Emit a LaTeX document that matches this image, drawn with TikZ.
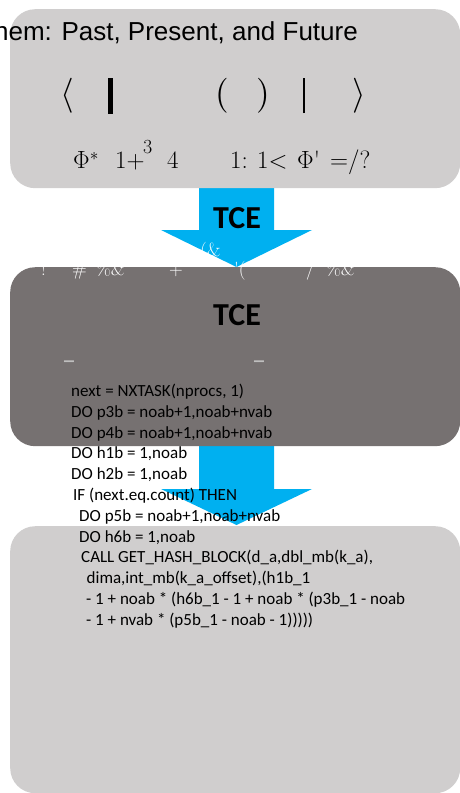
\documentclass[tikz,border=0pt]{standalone}
\usepackage{fontspec}
\newfontfamily\arialf{Liberation Sans}
\newfontfamily\calib{Carlito}
\usetikzlibrary{calc}
\definecolor{boxlight}{HTML}{D0CECE}
\definecolor{boxdark}{HTML}{767171}
\definecolor{arrowblue}{HTML}{00B0F0}
\definecolor{dashgray}{HTML}{BFBFBF}
\newcommand\blockarr[2]{%
  \fill[arrowblue] ($(#1)+(-37.5,0)$) -- ($(#1)+(37.5,0)$) -- ($(#1)+(37.5,43)$)
    -- ($(#1)+(75.5,43)$) -- (#2) -- ($(#1)+(-75.5,43)$) -- ($(#1)+(-37.5,43)$) -- cycle;}
\newcommand\tallglyph[1]{\resizebox*{!}{35pt}{$#1$}}
\begin{document}
\begin{tikzpicture}[x=1pt,y=-1pt,
  panel/.style={rounded corners=25pt, inner sep=0pt, minimum width=450pt, anchor=north west},
  tce/.style={font=\calib\bfseries\fontsize{32}{32}\selectfont, inner sep=0pt},
  code/.style={font=\calib\fontsize{17}{17}\selectfont, anchor=base west, inner sep=0pt},
  delim/.style={inner sep=0pt},
  eq/.style={font=\fontsize{25}{25}\selectfont, anchor=base west, inner sep=0pt},
  garble/.style={font=\fontsize{19}{19}\selectfont, text=white, anchor=base west, inner sep=0pt},
  dashmark/.style={font=\calib\fontsize{28}{28}\selectfont, text=dashgray, anchor=base, inner sep=0pt}]
\useasboundingbox (0,0) rectangle (460,793);
% arrows (behind the panels)
\coordinate (a1s) at (236.5,187);
\coordinate (a1t) at (236.5,267);
\coordinate (a2s) at (236.5,446);
\coordinate (a2t) at (236.5,525);
\blockarr{a1s}{a1t}
\blockarr{a2s}{a2t}
% panels
\node[panel, fill=boxlight, minimum height=179pt] (box1) at (10,9) {};
\node[panel, fill=boxdark, minimum height=179pt] (box2) at (10,267) {};
\node[panel, fill=boxlight, minimum height=267pt] (box3) at (10,526) {};
% title
\node[font=\arialf\fontsize{26}{26}\selectfont, anchor=base east, inner sep=0pt] (title) at (358,40) {hem: Past, Present, and Future};
% row 1 delimiters
\node[delim] (d1) at (67.5,95.5) {\tallglyph{\langle}};
\node[delim] (d2) at (110.5,95.5) {\rule{4.5pt}{36pt}};
\node[delim] (d3) at (222,95.5) {\tallglyph{(}};
\node[delim] (d4) at (263,95.5) {\tallglyph{)}};
\node[delim] (d5) at (303.5,95.5) {\rule{2pt}{35pt}};
\node[delim] (d6) at (359,95.5) {\tallglyph{\rangle}};
% row 2
\node[eq] (e1) at (73,168) {$\Phi$\raisebox{8pt}{\fontsize{18}{18}\selectfont$*$}};
\node[eq] (e2) at (115,168) {1+};
\node[eq] (e3) at (143,153) {\fontsize{20}{20}\selectfont 3};
\node[eq] (e4) at (167,168) {4};
\node[eq] (e5) at (230,168) {1:};
\node[eq] (e6) at (257,168) {1$<$};
\node[eq] (e7) at (297,168) {$\Phi$\textquotesingle};
\node[eq] (e8) at (330,168) {=/?};
% arrow labels
\node[tce] (t1) at (237,218) {TCE};
\node[tce] (t2) at (237,315.5) {TCE};
% garbled white text
\node[garble] (g1) at (41,275) {!};
\node[garble] (g2) at (72,275) {\#};
\node[garble] (g3) at (96,275) {\%\&};
\node[garble] (g4) at (146,275) {\textquotesingle};
\node[garble] (g5) at (169,275) {+};
\node[garble] (g6) at (200,256) {(\&};
\node[garble] (g7) at (234,275) {\textquotesingle(};
\node[garble] (g8) at (306,275) {/};
\node[garble] (g9) at (326,275) {\%\&};
\node[garble] (g10) at (376,275) {\textquotesingle};
% dashes
\node[dashmark] (m1) at (69,369) {–};
\node[dashmark] (m2) at (259,369) {–};
% code
\node[code] (c1) at (71,396.5) {next = NXTASK(nprocs, 1)};
\node[code] (c2) at (71,417.3) {DO p3b = noab+1,noab+nvab};
\node[code] (c3) at (71,438.1) {DO p4b = noab+1,noab+nvab};
\node[code] (c4) at (71,458.9) {DO h1b = 1,noab};
\node[code] (c5) at (71,479.7) {DO h2b = 1,noab};
\node[code] (c6) at (73,500.5) {IF (next.eq.count) THEN};
\node[code] (c7) at (79,521.3) {DO p5b = noab+1,noab+nvab};
\node[code] (c8) at (79,542.1) {DO h6b = 1,noab};
\node[code] (c9) at (81,562.9) {CALL GET\_HASH\_BLOCK(d\_a,dbl\_mb(k\_a),};
\node[code] (c10) at (86.5,583.7) {dima,int\_mb(k\_a\_offset),(h1b\_1};
\node[code] (c11) at (86,604.5) {- 1 + noab * (h6b\_1 - 1 + noab * (p3b\_1 - noab};
\node[code] (c12) at (86,625.3) {- 1 + nvab * (p5b\_1 - noab - 1)))))};
\end{tikzpicture}
\end{document}
